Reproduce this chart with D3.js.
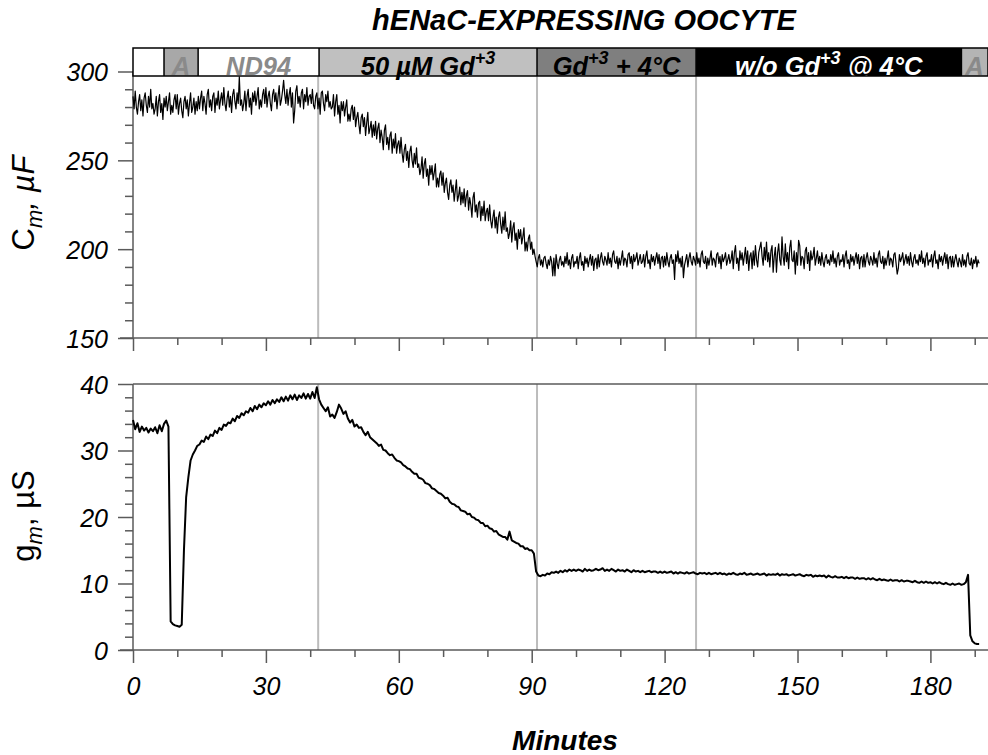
<!DOCTYPE html>
<html>
<head>
<meta charset="utf-8">
<script src="https://cdn.jsdelivr.net/npm/d3@7"></script>
<style>
  html, body { margin: 0; padding: 0; background: #fff; }
  svg { display: block; font-family: "Liberation Sans", Arial, Helvetica, sans-serif; }
</style>
</head>
<body>
<svg id="chart" width="988" height="755"></svg>
<script>
// Capacitance is sampled every quarter minute, conductance every half minute (t0 = 0 min)
const cmStep = 0.25;
const gmStep = 0.5;

// Membrane capacitance Cm (µF)
const cmValues = [
  286, 279, 289, 280, 276, 283, 287, 278, 284, 275, 285, 288, 281, 277, 286, 280, 290, 279, 282, 276,
  279, 286, 275, 283, 287, 277, 282, 273, 285, 280, 286, 278, 283, 288, 276, 281, 277, 284, 287, 279,
  287, 276, 282, 285, 278, 274, 283, 286, 279, 284, 275, 282, 288, 277, 280, 285, 276, 283, 278, 286,
  279, 285, 289, 278, 286, 282, 276, 287, 290, 280, 284, 278, 286, 288, 277, 285, 281, 289, 279, 284,
  288, 281, 291, 282, 278, 285, 289, 280, 286, 277, 287, 290, 283, 279, 288, 282, 297, 281, 284, 278,
  282, 289, 278, 286, 290, 280, 285, 276, 288, 283, 289, 281, 286, 291, 279, 284, 280, 287, 290, 282,
  291, 280, 286, 289, 282, 278, 287, 290, 283, 288, 279, 286, 292, 281, 284, 289, 295, 287, 282, 290,
  281, 287, 291, 280, 288, 271, 278, 289, 292, 282, 286, 280, 288, 290, 279, 287, 283, 291, 281, 286,
  287, 282, 290, 281, 279, 286, 288, 279, 285, 276, 288, 289, 282, 278, 287, 283, 289, 280, 283, 279,
  280, 287, 275, 283, 287, 276, 281, 271, 283, 278, 283, 275, 280, 284, 272, 276, 272, 279, 281, 273,
  280, 269, 274, 277, 270, 265, 274, 276, 269, 274, 264, 271, 277, 265, 268, 272, 263, 270, 264, 272,
  262, 268, 271, 260, 267, 263, 256, 267, 270, 259, 263, 256, 264, 266, 254, 262, 257, 265, 254, 259,
  261, 254, 263, 254, 249, 256, 259, 250, 255, 246, 255, 258, 250, 246, 254, 248, 257, 246, 248, 242,
  245, 252, 240, 248, 251, 241, 245, 236, 247, 242, 247, 239, 243, 248, 235, 240, 235, 242, 244, 236,
  243, 232, 237, 240, 232, 228, 236, 239, 232, 236, 227, 233, 239, 227, 230, 235, 225, 232, 226, 234,
  224, 230, 233, 222, 229, 225, 218, 229, 232, 221, 225, 218, 226, 227, 216, 224, 219, 227, 216, 221,
  223, 216, 225, 216, 212, 218, 222, 212, 218, 209, 218, 221, 214, 209, 218, 211, 221, 210, 212, 206,
  209, 216, 204, 212, 215, 205, 209, 200, 211, 206, 211, 203, 207, 212, 199, 204, 199, 206, 208, 200,
  204, 197, 200, 196, 193, 190, 195, 197, 191, 194, 190, 195, 196, 192, 189, 194, 191, 196, 193, 185,
  195, 185, 197, 192, 189, 194, 196, 191, 193, 190, 196, 192, 198, 191, 194, 189, 195, 197, 190, 193,
  192, 196, 189, 195, 198, 191, 193, 188, 196, 192, 195, 190, 194, 197, 191, 196, 188, 194, 195, 189,
  197, 190, 195, 198, 193, 191, 196, 194, 191, 198, 192, 195, 190, 197, 199, 193, 192, 196, 189, 195,
  191, 195, 199, 191, 195, 194, 190, 197, 198, 192, 196, 189, 197, 193, 195, 198, 191, 194, 197, 192,
  193, 197, 190, 196, 199, 192, 194, 189, 197, 193, 196, 191, 195, 198, 192, 197, 189, 195, 196, 190,
  196, 191, 198, 193, 190, 195, 197, 192, 194, 183, 197, 193, 199, 192, 195, 190, 196, 184, 191, 194,
  197, 190, 195, 198, 193, 191, 196, 194, 191, 198, 192, 195, 190, 197, 199, 193, 192, 196, 189, 195,
  191, 195, 199, 191, 195, 194, 190, 197, 198, 192, 196, 189, 197, 193, 195, 198, 191, 194, 197, 192,
  194, 199, 189, 198, 202, 192, 195, 188, 199, 194, 198, 191, 196, 201, 192, 199, 188, 196, 198, 189,
  199, 191, 202, 194, 190, 198, 201, 204, 196, 191, 201, 194, 204, 193, 198, 190, 199, 202, 187, 196,
  201, 187, 198, 203, 194, 191, 207, 196, 191, 203, 193, 198, 189, 201, 205, 194, 193, 199, 186, 198,
  191, 205, 202, 191, 196, 195, 189, 199, 201, 192, 198, 188, 199, 194, 196, 201, 191, 195, 199, 192,
  196, 191, 198, 193, 190, 195, 197, 192, 194, 191, 197, 193, 199, 192, 195, 190, 196, 198, 191, 194,
  193, 197, 190, 196, 199, 192, 194, 189, 197, 193, 196, 191, 195, 198, 192, 197, 189, 195, 196, 190,
  197, 190, 195, 198, 193, 191, 196, 194, 191, 198, 192, 195, 190, 197, 199, 193, 192, 196, 189, 195,
  191, 195, 199, 191, 195, 194, 190, 197, 198, 192, 186, 189, 197, 193, 195, 198, 191, 194, 197, 192,
  196, 191, 198, 193, 190, 195, 197, 192, 194, 191, 197, 193, 199, 192, 195, 190, 196, 198, 191, 194,
  193, 197, 190, 196, 199, 192, 194, 189, 197, 193, 196, 191, 195, 198, 192, 197, 189, 195, 196, 190,
  196, 190, 194, 197, 193, 190, 195, 193, 190, 197, 191, 194, 190, 196, 198, 192, 191, 195, 189, 194,
  192, 196, 190, 194, 192
];

// Membrane conductance gm (µS)
const gmValues = [
  34.6, 33.2, 34.1, 32.8, 33.6, 33.0, 33.4, 32.7, 33.3, 32.9,
  33.5, 32.6, 33.8, 32.9, 34.0, 34.5, 33.6, 4.3, 3.9, 3.7,
  3.6, 3.5, 3.8, 15.0, 23.0, 26.0, 28.5, 29.4, 30.0, 30.7,
  30.9, 31.5, 31.3, 32.1, 31.7, 32.4, 32.2, 33.0, 32.6, 33.4,
  33.1, 33.9, 33.7, 34.2, 34.1, 34.8, 34.4, 35.2, 34.9, 35.6,
  35.3, 35.9, 35.7, 36.4, 35.9, 36.7, 36.2, 36.9, 36.5, 37.1,
  36.8, 37.4, 36.9, 37.6, 37.1, 37.7, 37.3, 38.0, 37.4, 38.1,
  37.5, 38.3, 37.7, 38.4, 37.6, 38.3, 37.9, 38.6, 37.8, 38.5,
  37.8, 38.8, 37.9, 39.5, 37.7, 36.9, 36.4, 35.9, 36.5, 35.1,
  35.4, 34.9, 35.8, 36.9, 36.3, 35.5, 35.9, 34.8, 34.2, 34.6,
  33.6, 33.9, 33.4, 33.5, 32.8, 32.3, 32.8, 32.0, 31.7, 31.4,
  31.1, 30.7, 30.9, 30.1, 30.0, 29.6, 29.3, 29.4, 28.9, 28.5,
  28.4, 28.2, 27.8, 27.6, 27.3, 27.2, 26.8, 26.5, 26.5, 25.9,
  25.8, 25.6, 25.1, 25.0, 24.8, 24.3, 24.2, 23.9, 23.6, 23.5,
  23.2, 22.8, 22.9, 22.3, 22.0, 21.9, 21.6, 21.5, 21.0, 20.9,
  20.8, 20.4, 20.5, 20.0, 19.9, 19.6, 19.5, 19.1, 19.1, 18.6,
  18.7, 18.3, 18.2, 17.8, 17.9, 17.4, 17.2, 17.0, 17.0, 16.6,
  17.8, 16.5, 16.3, 16.1, 16.0, 15.6, 15.6, 15.2, 15.3, 15.0,
  15.0, 14.5, 11.8, 11.2, 11.1, 11.3, 11.2, 11.5, 11.4, 11.7,
  11.6, 11.8, 11.6, 11.9, 11.7, 12.0, 11.8, 12.1, 11.9, 12.1,
  11.9, 12.1, 12.0, 11.8, 12.2, 11.9, 12.1, 11.9, 12.0, 12.2,
  12.0, 12.1, 12.3, 11.9, 12.1, 11.9, 12.2, 12.0, 11.8, 12.1,
  11.9, 12.0, 11.8, 12.1, 11.9, 11.7, 12.0, 11.8, 11.9, 11.7,
  11.9, 11.7, 11.8, 11.9, 11.7, 11.8, 11.8, 11.6, 11.8, 11.6,
  11.8, 11.6, 11.7, 11.8, 11.5, 11.7, 11.5, 11.7, 11.6, 11.5,
  11.7, 11.5, 11.6, 11.7, 11.5, 11.4, 11.6, 11.5, 11.6, 11.4,
  11.6, 11.4, 11.5, 11.6, 11.4, 11.6, 11.4, 11.5, 11.3, 11.5,
  11.4, 11.6, 11.4, 11.3, 11.5, 11.4, 11.6, 11.3, 11.4, 11.5,
  11.3, 11.4, 11.5, 11.3, 11.4, 11.5, 11.2, 11.4, 11.3, 11.4,
  11.3, 11.5, 11.2, 11.4, 11.3, 11.4, 11.2, 11.3, 11.4, 11.2,
  11.3, 11.4, 11.2, 11.1, 11.3, 11.2, 11.3, 11.0, 11.2, 11.1,
  11.2, 11.1, 11.2, 10.9, 11.2, 11.0, 10.9, 11.1, 10.9, 10.9,
  11.0, 10.8, 11.0, 10.8, 10.9, 10.9, 10.7, 10.9, 10.7, 10.8,
  10.8, 10.6, 10.8, 10.6, 10.8, 10.6, 10.5, 10.7, 10.5, 10.6,
  10.5, 10.4, 10.6, 10.4, 10.5, 10.5, 10.3, 10.5, 10.3, 10.4,
  10.4, 10.3, 10.2, 10.4, 10.2, 10.1, 10.3, 10.1, 10.3, 10.1,
  10.2, 10.0, 10.2, 10.0, 10.2, 10.0, 9.9, 10.1, 9.9, 9.8,
  10.0, 9.8, 9.9, 10.0, 9.8, 9.9, 10.2, 11.3, 2.2, 1.3,
  1.0, 0.9, 0.9
];

// Solution / condition protocol bar (start and end in minutes)
const phaseStart = [0, 7, 14.7, 42, 91.2, 127.1, 187];
const phaseEnd   = [7, 14.7, 42, 91.2, 127.1, 187, 193];
const phaseFill  = ["#ffffff", "#a8a8a8", "#ffffff", "#c0c0c0", "#7f7f7f", "#000000", "#b4b4b4"];
const phaseTextColor = ["#000", "#8a8a8a", "#8a8a8a", "#000", "#000", "#fff", "#8a8a8a"];
// label pieces: [text, isSuperscript]
const phaseLabels = [
  [],
  [["A", false]],
  [["ND94", false]],
  [["50 \u00b5M Gd", false], ["+3", true]],
  [["Gd", false], ["+3", true], [" + 4\u00b0C", false]],
  [["w/o Gd", false], ["+3", true], [" @ 4\u00b0C", false]],
  [["A", false]]
];
// Solution change markers (minutes)
const changeTimes = [41.8, 91.2, 127.1];

// Axis ticks
const timeMajor = [0, 30, 60, 90, 120, 150, 180];
const timeMinor = d3.range(10, 200, 10).filter(t => t % 30 !== 0);
const cmMajor = [150, 200, 250, 300];
const cmMinor = d3.range(160, 300, 10).filter(v => v % 50 !== 0);
const gmMajor = [0, 10, 20, 30, 40];
const gmMinor = d3.range(2, 40, 2).filter(v => v % 10 !== 0);

const svg = d3.select("#chart");
const axisColor = "#5a5a5a";
const tickFont = 25;

const x = d3.scaleLinear().domain([0, 193]).range([133, 988]);
const yCm = d3.scaleLinear().domain([150, 300]).range([338, 71.5]);
const yGm = d3.scaleLinear().domain([0, 40]).range([650, 384]);

const cmData = cmValues.map((v, i) => ({ t: i * cmStep, v }));
const gmData = gmValues.map((v, i) => ({ t: i * gmStep, v }));

// Title
svg.append("text")
  .attr("x", 584).attr("y", 30)
  .attr("text-anchor", "middle")
  .attr("font-size", 29).attr("font-weight", "bold").attr("font-style", "italic")
  .text("hENaC-EXPRESSING OOCYTE");

// ---- helpers -------------------------------------------------------------
function styleAxis(g) {
  g.selectAll("path.domain").remove();
  g.selectAll(".tick line").attr("stroke", axisColor).attr("stroke-width", 1.5);
  g.selectAll(".tick text").attr("fill", "#000").attr("font-size", tickFont)
    .attr("font-style", "italic").attr("font-family", "Liberation Sans, Arial, sans-serif");
}

function leftAxis(scale, major, minor, x0, y0, y1) {
  const gMin = svg.append("g").attr("transform", `translate(${x0},0)`)
    .call(d3.axisLeft(scale).tickValues(minor).tickSize(8).tickFormat(""));
  styleAxis(gMin);
  const gMaj = svg.append("g").attr("transform", `translate(${x0},0)`)
    .call(d3.axisLeft(scale).tickValues(major).tickSize(15).tickPadding(10));
  styleAxis(gMaj);
  gMaj.selectAll(".tick text").attr("dy", "0.36em");
  svg.append("line").attr("x1", x0).attr("x2", x0).attr("y1", y0).attr("y2", y1)
    .attr("stroke", axisColor).attr("stroke-width", 1.5);
}

function bottomAxis(yPos, withLabels) {
  const gMin = svg.append("g").attr("transform", `translate(0,${yPos})`)
    .call(d3.axisBottom(x).tickValues(timeMinor).tickSize(7).tickFormat(""));
  styleAxis(gMin);
  const gMaj = svg.append("g").attr("transform", `translate(0,${yPos})`)
    .call(d3.axisBottom(x).tickValues(timeMajor).tickSize(13).tickPadding(14)
      .tickFormat(withLabels ? d3.format("d") : ""));
  styleAxis(gMaj);
  gMaj.selectAll(".tick text").attr("dy", "0.71em");
  svg.append("line").attr("x1", 120).attr("x2", 988).attr("y1", yPos).attr("y2", yPos)
    .attr("stroke", axisColor).attr("stroke-width", 1.5);
}

// ---- solution change markers ---------------------------------------------
const markers = svg.append("g").attr("stroke", "#bcbcbc").attr("stroke-width", 2);
changeTimes.forEach(t => {
  markers.append("line").attr("x1", x(t)).attr("x2", x(t)).attr("y1", 76).attr("y2", 338);
  markers.append("line").attr("x1", x(t)).attr("x2", x(t)).attr("y1", 384).attr("y2", 650);
});

// ---- top panel: Cm ---------------------------------------------------------
leftAxis(yCm, cmMajor, cmMinor, 133, 71.5, 338);
bottomAxis(338, false);

svg.append("path").datum(cmData)
  .attr("fill", "none").attr("stroke", "#000").attr("stroke-width", 1.2)
  .attr("stroke-linejoin", "round")
  .attr("d", d3.line().x(d => x(d.t)).y(d => yCm(d.v)));

// ---- bottom panel: gm ------------------------------------------------------
svg.append("line").attr("x1", 133).attr("x2", 988).attr("y1", 384).attr("y2", 384)
  .attr("stroke", axisColor).attr("stroke-width", 1.5);
leftAxis(yGm, gmMajor, gmMinor, 133, 384, 650);
bottomAxis(650, true);

svg.append("path").datum(gmData)
  .attr("fill", "none").attr("stroke", "#000").attr("stroke-width", 2)
  .attr("stroke-linejoin", "round")
  .attr("d", d3.line().x(d => x(d.t)).y(d => yGm(d.v)));

// ---- protocol bar ----------------------------------------------------------
const barTop = 48, barBottom = 76;
const bar = svg.append("g");
phaseStart.forEach((s, i) => {
  bar.append("rect")
    .attr("x", x(s)).attr("y", barTop)
    .attr("width", x(phaseEnd[i]) - x(s)).attr("height", barBottom - barTop)
    .attr("fill", phaseFill[i]);
});
phaseStart.forEach((s, i) => {
  if (!phaseLabels[i].length) return;
  const cx = i === 6 ? x(s) + 13 : (x(s) + x(phaseEnd[i])) / 2;
  const t = bar.append("text")
    .attr("x", cx).attr("y", barBottom - 1)
    .attr("text-anchor", "middle")
    .attr("font-size", 25.5).attr("font-weight", "bold").attr("font-style", "italic")
    .attr("fill", phaseTextColor[i]);
  phaseLabels[i].forEach(([str, sup]) => {
    const ts = t.append("tspan").text(str);
    if (sup) ts.attr("font-size", 18).attr("dy", -11);
    else if (t.selectAll("tspan").size() > 1) ts.attr("dy", 11);
  });
});
// bar outline and dividers
bar.append("rect").attr("x", 133).attr("y", barTop).attr("width", 988 - 133)
  .attr("height", barBottom - barTop).attr("fill", "none")
  .attr("stroke", "#000").attr("stroke-width", 1.5);
phaseStart.slice(1).forEach(s => {
  bar.append("line").attr("x1", x(s)).attr("x2", x(s)).attr("y1", barTop).attr("y2", barBottom)
    .attr("stroke", "#000").attr("stroke-width", 1.5);
});

// ---- axis titles -----------------------------------------------------------
const cmLabel = svg.append("text")
  .attr("transform", "translate(34,203) rotate(-90)")
  .attr("text-anchor", "middle").attr("font-size", 31);
cmLabel.append("tspan").text("C");
cmLabel.append("tspan").attr("font-size", 22).attr("dy", 8).attr("font-style", "italic").text("m");
cmLabel.append("tspan").attr("dy", -8).attr("font-style", "italic").text(",  \u00b5F");

const gmLabel = svg.append("text")
  .attr("transform", "translate(34,516) rotate(-90)")
  .attr("text-anchor", "middle").attr("font-size", 31);
gmLabel.append("tspan").text("g");
gmLabel.append("tspan").attr("font-size", 22).attr("dy", 8).attr("font-style", "italic").text("m");
gmLabel.append("tspan").attr("dy", -8).text(",  \u00b5S");

svg.append("text")
  .attr("x", 565).attr("y", 750)
  .attr("text-anchor", "middle")
  .attr("font-size", 28).attr("font-weight", "bold").attr("font-style", "italic")
  .text("Minutes");
</script>
</body>
</html>
